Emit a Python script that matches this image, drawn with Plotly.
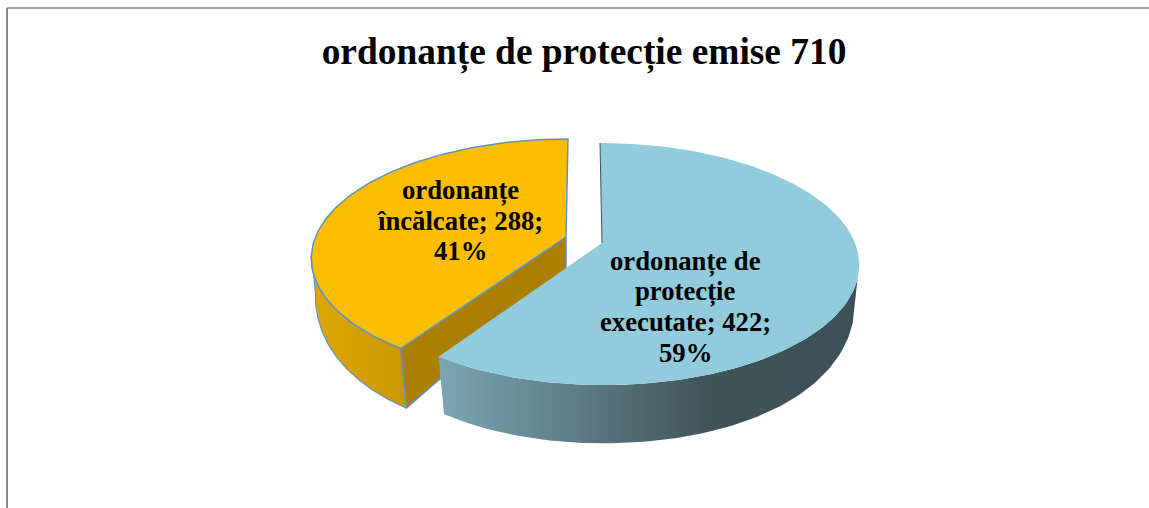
import math
import plotly.graph_objects as go

TITLE = "ordonanțe de protecție emise 710"
categories = ["ordonanțe de<br>protecție<br>executate", "ordonanțe<br>încălcate"]
values = [422, 288]
percent_labels = ["59%", "41%"]

W, H = 1149, 508
total = sum(values)

# projection of the tilted pie disc onto the page axes
RX, RY, K = 253, 117.4, 0.174      # top face
RX2, RY2, K2, KX2 = 250, 165, 0.02, 0.15  # lower rim
DROP = 32
# apex x, apex y, x scale, y scale, skew for each exploded slice
SLICES = [(602, 243, 1.0, 1.0, -2), (566, 237, 0.99, 0.98, 2)]


def top(c, deg):
    t = math.radians(deg)
    u, v = math.sin(t), math.cos(t)
    d = 1 + K * v
    return c[0] + c[2] * RX * u / d + c[4] * v, c[1] - c[3] * RY * v / d


def low(c, deg):
    t = math.radians(deg)
    u, v = math.sin(t), math.cos(t)
    return (c[0] + c[2] * RX2 * u / (1 + KX2 * v) + c[4] * v,
            c[1] + DROP - RY2 * v / (1 + K2 * v))


def arc(fn, c, a, b, n=90):
    pts = [fn(c, a + (b - a) * i / n) for i in range(n + 1)]
    return [p[0] for p in pts], [p[1] for p in pts]


# slice angles from the values
a_split = 360 * values[0] / total
blue_c, yellow_c = SLICES

fig = go.Figure()


def poly(xs, ys, name, fill=None, grad=None, line=None, width=0):
    kw = {}
    if grad:
        kw["fillgradient"] = dict(type="horizontal", colorscale=grad)
    else:
        kw["fillcolor"] = fill
    fig.add_trace(go.Scatter(
        x=xs, y=ys, mode="lines", fill="toself", name=name, hoverinfo="name",
        line=dict(color=line or "rgba(0,0,0,0)", width=width), showlegend=False, **kw))


EDGE = "#5f93c6"
names = [c.replace("<br>", " ") for c in categories]

# yellow slice: rim, cut face, top face
x1, y1 = arc(top, yellow_c, a_split, 262)
x2, y2 = arc(low, yellow_c, 262, a_split)
poly(x1 + x2 + [x1[0]], y1 + y2 + [y1[0]], names[1],
     grad=[[0, "#dea800"], [1, "#c89600"]], line=EDGE, width=1.2)

tv = top(yellow_c, a_split)
lv = low(yellow_c, a_split)
la = (yellow_c[0], yellow_c[1] + DROP)
poly([yellow_c[0], tv[0], lv[0], la[0], yellow_c[0]],
     [yellow_c[1], tv[1], lv[1], la[1], yellow_c[1]], names[1],
     fill="#ab8000", line=EDGE, width=1.5)

x3, y3 = arc(top, yellow_c, a_split, 360)
poly([yellow_c[0]] + x3 + [yellow_c[0]], [yellow_c[1]] + y3 + [yellow_c[1]], names[1],
     fill="#fcbe00", line=EDGE, width=1.5)

# blue slice: rim, top face, back edge
x4, y4 = arc(top, blue_c, 107, a_split)
x5, y5 = arc(low, blue_c, a_split, 107)
poly(x4 + x5 + [x4[0]], y4 + y5 + [y4[0]], names[0],
     grad=[[0, "#7ca6b4"], [0.65, "#3f5359"], [1, "#3d5158"]])

x6, y6 = arc(top, blue_c, 0, a_split, 180)
poly([blue_c[0]] + x6 + [blue_c[0]], [blue_c[1]] + y6 + [blue_c[1]], names[0], fill="#92cbdb")

bt = top(blue_c, 0)
fig.add_trace(go.Scatter(x=[bt[0], blue_c[0]], y=[bt[1], blue_c[1]], mode="lines",
                         line=dict(color="#3f5359", width=1), hoverinfo="skip", showlegend=False))

# data labels, one annotation per line for the tight line spacing
label_x = [685, 460]
label_top_y = [261, 190]
LINE_STEP = 30.5
for cat, val, pct, lx, ly in zip(categories, values, percent_labels, label_x, label_top_y):
    lines = f"{cat}; {val};<br>{pct}".split("<br>")
    for i, line in enumerate(lines):
        fig.add_annotation(x=lx, y=ly + i * LINE_STEP, xref="x", yref="y", showarrow=False,
                           text=f"<b>{line}</b>",
                           font=dict(family="Liberation Serif", size=26.7, color="#000000"))

fig.update_layout(
    width=W, height=H, margin=dict(l=0, r=0, t=0, b=0),
    paper_bgcolor="white", plot_bgcolor="white", showlegend=False,
    xaxis=dict(range=[0, W], visible=False, fixedrange=True),
    yaxis=dict(range=[H, 0], visible=False, fixedrange=True),
    title=dict(text=f"<b>{TITLE}</b>", x=584 / W, xanchor="center", y=1 - 51 / H, yanchor="middle",
               font=dict(family="Liberation Serif", size=37.4, color="#000000")),
    shapes=[
        dict(type="line", xref="x", yref="y", x0=7, x1=W, y0=8, y1=8, line=dict(color="#8a8a8a", width=1.6)),
        dict(type="line", xref="x", yref="y", x0=7, x1=7, y0=8, y1=H, line=dict(color="#8a8a8a", width=2)),
    ],
)

fig.write_html("out.html", config={"displayModeBar": False},
               post_script="document.body.style.margin='0';document.body.style.overflow='hidden';")
